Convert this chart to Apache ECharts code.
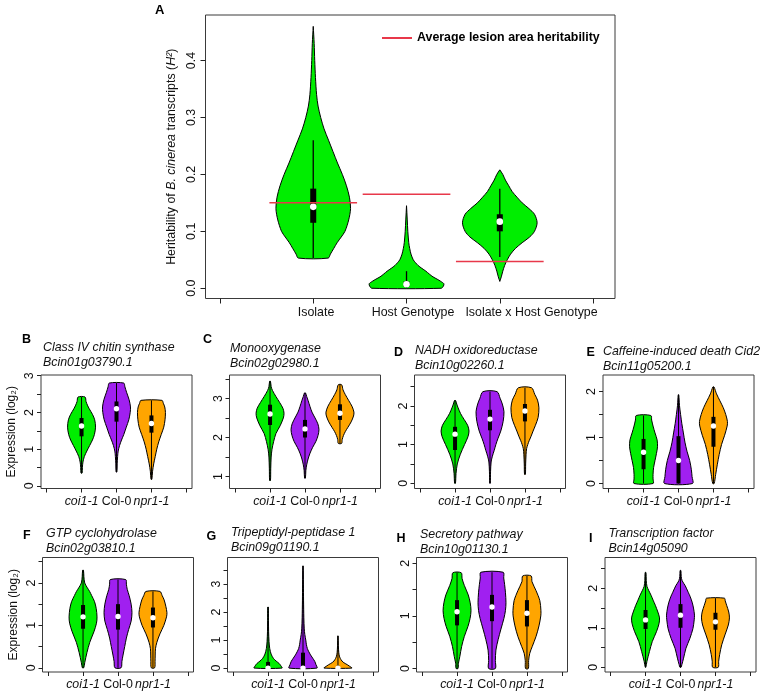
<!DOCTYPE html>
<html><head><meta charset="utf-8">
<script src="https://cdn.jsdelivr.net/npm/echarts@6/dist/echarts.min.js"></script>
<style>html,body{margin:0;padding:0;background:#fff}#c{width:764px;height:698px}</style>
</head><body><div id="c"></div>
<script>
// ---------------- DATA ----------------
const effectCategories = ['Isolate', 'Host Genotype', 'Isolate x Host Genotype'];
const genotypes = ['coi1-1', 'Col-0', 'npr1-1'];
const genotypeItalic = [true, false, true];

// Panel A: violin profiles [value, relative density width]
const profA_isolate = [[0.053,0.40],[0.06,0.46],[0.07,0.55],[0.08,0.64],[0.09,0.75],[0.10,0.85],[0.12,0.95],[0.14,1.0],[0.16,0.97],[0.18,0.89],[0.20,0.78],[0.22,0.65],[0.24,0.53],[0.26,0.41],[0.28,0.29],[0.30,0.2],[0.32,0.13],[0.34,0.09],[0.37,0.06],[0.40,0.04],[0.43,0.025],[0.46,0.0]];
const profA_host = [[0,0.93],[0.004,0.99],[0.008,1.0],[0.012,0.92],[0.016,0.82],[0.02,0.71],[0.025,0.61],[0.03,0.52],[0.035,0.41],[0.04,0.31],[0.045,0.24],[0.05,0.18],[0.06,0.12],[0.07,0.085],[0.08,0.06],[0.10,0.035],[0.12,0.02],[0.145,0]];
const profA_ixh = [[0.012,0],[0.02,0.04],[0.03,0.08],[0.04,0.13],[0.05,0.2],[0.06,0.29],[0.07,0.42],[0.08,0.6],[0.09,0.8],[0.10,0.93],[0.115,1.0],[0.13,0.93],[0.14,0.78],[0.15,0.6],[0.16,0.46],[0.17,0.33],[0.18,0.24],[0.19,0.15],[0.20,0.08],[0.208,0]];
const medianA = [0.143, 0.007, 0.117];
const boxA = [[0.115,0.175],[0.003,0.012],[0.10,0.13]];
const whiskerA = [[0.053,0.26],[0.0,0.03],[0.055,0.175]];
const lesionHeritability = [0.15, 0.165, 0.047];
const yTicksA = [0, 0.1, 0.2, 0.3, 0.4];
const xLabelPosA = [1.03, 2.07, 3.34];

// Panel B
const profB_coi = [[0.35,0.04],[0.5,0.06],[0.65,0.1],[0.8,0.2],[0.95,0.38],[1.1,0.58],[1.25,0.78],[1.4,0.92],[1.6,1.0],[1.8,0.94],[1.95,0.78],[2.1,0.55],[2.2,0.42],[2.3,0.32],[2.42,0.25]];
const profB_col = [[0.38,0.03],[0.6,0.05],[0.8,0.08],[0.95,0.12],[1.1,0.22],[1.25,0.36],[1.4,0.52],[1.6,0.7],[1.8,0.88],[2.0,0.98],[2.15,1.0],[2.35,0.9],[2.55,0.72],[2.7,0.6],[2.8,0.52]];
const profB_npr = [[0.18,0.03],[0.4,0.08],[0.6,0.16],[0.8,0.27],[1.0,0.38],[1.2,0.52],[1.4,0.7],[1.6,0.88],[1.8,0.97],[2.0,1.0],[2.15,0.95],[2.25,0.85],[2.33,0.75]];
const medianB = [1.63, 2.1, 1.7];
const boxB = [[1.35,1.85],[1.75,2.3],[1.45,1.92]];
const whiskerB = [[0.35,2.42],[0.38,2.8],[0.18,2.33]];
const yTicksB = [0,0.5,1,1.5,2,2.5,3], yLabelsB = [0,1,2,3];

// Panel C
const profC_coi = [[0.9,0.03],[1.2,0.05],[1.5,0.08],[1.7,0.14],[1.9,0.26],[2.1,0.42],[2.3,0.72],[2.5,0.95],[2.62,1.0],[2.75,0.92],[2.9,0.68],[3.05,0.42],[3.2,0.18],[3.3,0.08],[3.44,0.03]];
const profC_col = [[0.96,0.03],[1.15,0.06],[1.3,0.12],[1.45,0.22],[1.6,0.36],[1.75,0.55],[1.9,0.78],[2.05,0.93],[2.2,1.0],[2.35,0.92],[2.5,0.72],[2.65,0.5],[2.8,0.35],[2.95,0.22],[3.05,0.12],[3.14,0.04]];
const profC_npr = [[1.85,0.12],[1.95,0.16],[2.05,0.25],[2.15,0.38],[2.25,0.55],[2.4,0.8],[2.55,0.97],[2.65,1.0],[2.8,0.86],[2.95,0.62],[3.1,0.38],[3.22,0.22],[3.35,0.12]];
const medianC = [2.6, 2.22, 2.62];
const boxC = [[2.32,2.84],[2.0,2.45],[2.45,2.85]];
const whiskerC = [[0.9,3.44],[0.96,3.14],[1.85,3.35]];
const yTicksC = [1,1.5,2,2.5,3,3.5], yLabelsC = [1,2,3];

// Panel D
const profD_coi = [[0,0.03],[0.25,0.07],[0.5,0.16],[0.75,0.38],[1.0,0.68],[1.2,0.92],[1.35,1.0],[1.5,0.9],[1.65,0.65],[1.8,0.4],[1.95,0.22],[2.05,0.12],[2.14,0.04]];
const profD_col = [[0,0.02],[0.3,0.04],[0.55,0.08],[0.7,0.17],[0.85,0.3],[1.0,0.42],[1.15,0.56],[1.35,0.77],[1.6,0.94],[1.85,1.0],[2.05,0.88],[2.2,0.72],[2.37,0.5]];
const profD_npr = [[0.23,0.03],[0.5,0.05],[0.75,0.08],[0.9,0.12],[1.0,0.2],[1.1,0.3],[1.2,0.42],[1.35,0.58],[1.5,0.75],[1.7,0.94],[1.95,1.0],[2.15,0.9],[2.3,0.7],[2.47,0.47]];
const medianD = [1.27, 1.66, 1.87];
const boxD = [[0.86,1.46],[1.37,1.9],[1.6,2.05]];
const whiskerD = [[0,2.14],[0,2.37],[0.23,2.47]];
const yTicksD = [0,0.5,1,1.5,2,2.5], yLabelsD = [0,1,2];

// Panel E
const profE_coi = [[0,0.68],[0.1,0.68],[0.2,0.68],[0.35,0.72],[0.5,0.82],[0.65,0.92],[0.8,1.0],[0.95,0.97],[1.1,0.82],[1.25,0.68],[1.38,0.58],[1.48,0.52]];
const profE_col = [[0,1.0],[0.15,0.97],[0.3,0.92],[0.5,0.8],[0.7,0.61],[0.9,0.46],[1.1,0.35],[1.3,0.24],[1.5,0.15],[1.7,0.07],[1.93,0.02]];
const profE_npr = [[0,0.05],[0.2,0.16],[0.42,0.28],[0.63,0.41],[0.85,0.58],[1.05,0.8],[1.25,0.98],[1.35,1.0],[1.5,0.88],[1.65,0.7],[1.8,0.46],[1.95,0.22],[2.1,0.04]];
const medianE = [0.68, 0.5, 1.25];
const boxE = [[0.31,0.97],[0,1.03],[0.8,1.45]];
const whiskerE = [[0,1.48],[0,1.93],[0,2.1]];
const yTicksE = [0,0.5,1,1.5,2], yLabelsE = [0,1,2];

// Panel F
const profF_coi = [[0,0.05],[0.12,0.12],[0.36,0.28],[0.6,0.48],[0.85,0.78],[1.05,0.96],[1.2,1.0],[1.4,0.94],[1.56,0.82],[1.7,0.62],[1.8,0.47],[1.9,0.28],[2.0,0.12],[2.15,0.06],[2.3,0.03]];
const profF_col = [[0,0.22],[0.15,0.28],[0.3,0.36],[0.5,0.48],[0.7,0.6],[0.9,0.76],[1.1,0.94],[1.3,1.0],[1.5,0.94],[1.7,0.8],[1.85,0.66],[1.97,0.6],[2.08,0.55]];
const profF_npr = [[0,0.12],[0.15,0.15],[0.3,0.16],[0.45,0.18],[0.6,0.28],[0.8,0.5],[1.0,0.78],[1.2,0.97],[1.3,1.0],[1.45,0.92],[1.6,0.8],[1.7,0.66],[1.8,0.5]];
const medianF = [1.2, 1.21, 1.18];
const boxF = [[0.92,1.48],[0.9,1.5],[0.95,1.42]];
const whiskerF = [[0,2.3],[0,2.08],[0,1.8]];
const yTicksF = [0,0.5,1,1.5,2,2.5], yLabelsF = [0,1,2];

// Panel G
const profG_coi = [[0,1.0],[0.08,0.92],[0.16,0.8],[0.25,0.58],[0.35,0.38],[0.5,0.22],[0.7,0.12],[0.95,0.07],[1.3,0.04],[1.7,0.03],[2.18,0.02]];
const profG_col = [[0,1.0],[0.12,0.93],[0.24,0.84],[0.35,0.7],[0.47,0.54],[0.6,0.4],[0.7,0.31],[0.85,0.24],[1.0,0.2],[1.2,0.13],[1.4,0.09],[1.8,0.06],[2.4,0.04],[3.0,0.03],[3.65,0.01]];
const profG_npr = [[0,1.0],[0.06,0.85],[0.12,0.67],[0.21,0.37],[0.3,0.22],[0.4,0.12],[0.55,0.06],[0.8,0.03],[1.15,0.01]];
const medianG = [0, 0, 0];
const boxG = [[0,0.22],[0,0.55],[0,0.08]];
const whiskerG = [[0,2.18],[0,3.65],[0,1.15]];
const yTicksG = [0,0.5,1,1.5,2,2.5,3,3.5], yLabelsG = [0,1,2,3];

// Panel H
const profH_coi = [[0,0.07],[0.1,0.1],[0.23,0.2],[0.42,0.33],[0.61,0.52],[0.8,0.78],[0.95,0.93],[1.1,1.0],[1.25,0.94],[1.4,0.8],[1.58,0.52],[1.71,0.36],[1.82,0.3]];
const profH_col = [[0,0.24],[0.15,0.24],[0.35,0.28],[0.55,0.44],[0.75,0.64],[0.95,0.85],[1.1,0.96],[1.25,1.0],[1.45,0.96],[1.6,0.9],[1.72,0.84],[1.83,0.8]];
const profH_npr = [[0,0.1],[0.15,0.12],[0.29,0.2],[0.42,0.38],[0.61,0.65],[0.81,0.86],[1.0,0.99],[1.1,1.0],[1.29,0.92],[1.48,0.65],[1.65,0.36],[1.76,0.3]];
const medianH = [1.08, 1.17, 1.05];
const boxH = [[0.82,1.3],[0.9,1.4],[0.8,1.3]];
const whiskerH = [[0,1.82],[0,1.83],[0,1.76]];
const yTicksH = [0,0.5,1,1.5,2], yLabelsH = [0,1,2];

// Panel I
const profI_coi = [[0,0.02],[0.15,0.1],[0.4,0.28],[0.65,0.48],[0.9,0.78],[1.1,0.96],[1.25,1.0],[1.4,0.88],[1.57,0.7],[1.7,0.54],[1.82,0.4],[1.95,0.22],[2.05,0.1],[2.2,0.05],[2.4,0.03]];
const profI_col = [[0,0.04],[0.07,0.1],[0.23,0.22],[0.48,0.39],[0.73,0.67],[0.98,0.89],[1.2,0.98],[1.32,1.0],[1.5,0.93],[1.65,0.83],[1.8,0.68],[1.9,0.55],[2.07,0.33],[2.19,0.12],[2.3,0.05],[2.45,0.03]];
const profI_npr = [[0,0.2],[0.15,0.23],[0.32,0.3],[0.57,0.45],[0.82,0.68],[1.07,0.92],[1.25,1.0],[1.4,0.95],[1.57,0.8],[1.68,0.7],[1.75,0.64]];
const medianI = [1.2, 1.32, 1.15];
const boxI = [[0.97,1.45],[1.0,1.6],[0.95,1.38]];
const whiskerI = [[0,2.4],[0,2.45],[0,1.75]];
const yTicksI = [0,0.5,1,1.5,2,2.5], yLabelsI = [0,1,2];

// ---------------- STYLE / LAYOUT ----------------
const FONT = '"Liberation Sans", Arial, Helvetica, sans-serif';
const FS = 12.4;
const GREEN = '#00ee00', PURPLE = '#a020f0', ORANGE = '#ffa500', RED = '#e8384a';
const BOX_BORDER = '#3a3a3a';
const violinColors = [GREEN, PURPLE, ORANGE];

const panels = [
  {letter:'B', title:'Class IV chitin synthase\nBcin01g03790.1', prof:[profB_coi,profB_col,profB_npr], med:medianB, box:boxB, wh:whiskerB, yt:yTicksB, yl:yLabelsB,
   left:41, top:375, h:113.5, ymin:-0.07, ymax:3.02, tx:43, ty:348, lx:22, ly:340, yname:true},
  {letter:'C', title:'Monooxygenase\nBcin02g02980.1', prof:[profC_coi,profC_col,profC_npr], med:medianC, box:boxC, wh:whiskerC, yt:yTicksC, yl:yLabelsC,
   left:229.5, top:375, h:113.5, ymin:0.695, ymax:3.6, tx:230, ty:349, lx:203, ly:340},
  {letter:'D', title:'NADH oxidoreductase\nBcin10g02260.1', prof:[profD_coi,profD_col,profD_npr], med:medianD, box:boxD, wh:whiskerD, yt:yTicksD, yl:yLabelsD,
   left:414.5, top:375, h:113.5, ymin:-0.135, ymax:2.8, tx:415, ty:351, lx:394, ly:352.5},
  {letter:'E', title:'Caffeine-induced death Cid2\nBcin11g05200.1', prof:[profE_coi,profE_col,profE_npr], med:medianE, box:boxE, wh:whiskerE, yt:yTicksE, yl:yLabelsE,
   left:603, top:375, h:113.5, ymin:-0.108, ymax:2.36, tx:603, ty:352, lx:586.5, ly:353},
  {letter:'F', title:'GTP cyclohydrolase\nBcin02g03810.1', prof:[profF_coi,profF_col,profF_npr], med:medianF, box:boxF, wh:whiskerF, yt:yTicksF, yl:yLabelsF,
   left:42.5, top:557.5, h:114.5, ymin:-0.1, ymax:2.6, tx:46, ty:533.5, lx:23, ly:536, yname:true},
  {letter:'G', title:'Tripeptidyl-peptidase 1\nBcin09g01190.1', prof:[profG_coi,profG_col,profG_npr], med:medianG, box:boxG, wh:whiskerG, yt:yTicksG, yl:yLabelsG,
   left:227.5, top:557.5, h:114.5, ymin:-0.14, ymax:3.95, tx:231, ty:533, lx:206.5, ly:537},
  {letter:'H', title:'Secretory pathway\nBcin10g01130.1', prof:[profH_coi,profH_col,profH_npr], med:medianH, box:boxH, wh:whiskerH, yt:yTicksH, yl:yLabelsH,
   left:416.5, top:557.5, h:114.5, ymin:-0.066, ymax:2.11, tx:420, ty:535, lx:396.5, ly:538.5},
  {letter:'I', title:'Transcription factor\nBcin14g05090', prof:[profI_coi,profI_col,profI_npr], med:medianI, box:boxI, wh:whiskerI, yt:yTicksI, yl:yLabelsI,
   left:605, top:557.5, h:114.5, ymin:-0.12, ymax:2.78, tx:608.5, ty:533.5, lx:589, ly:539}
];

// ---------------- BUILD ----------------
function violinSeries(gi, prof, med, box, wh, colors, halfMax, boxW, dotR, whW) {
  return {
    type: 'custom', xAxisIndex: gi, yAxisIndex: gi, silent: true, z: 3,
    data: prof.map((p, i) => [i + 1]),
    renderItem: (params, api) => {
      const i = params.dataIndex, x = i + 1, p = prof[i];
      const leftSide = p.map(([y, w]) => api.coord([x - w * halfMax, y]));
      const rightSide = p.slice().reverse().map(([y, w]) => api.coord([x + w * halfMax, y]));
      const lo = api.coord([x, wh[i][0]]), hi = api.coord([x, wh[i][1]]);
      const q1 = api.coord([x, box[i][0]]), q3 = api.coord([x, box[i][1]]);
      const m = api.coord([x, med[i]]);
      return { type: 'group', children: [
        { type: 'polygon', shape: { points: leftSide.concat(rightSide), smooth: 0.3 },
          style: { fill: colors[i], stroke: '#000', lineWidth: 1 } },
        { type: 'line', shape: { x1: lo[0], y1: lo[1], x2: hi[0], y2: hi[1] },
          style: { stroke: '#000', lineWidth: whW } },
        { type: 'rect', shape: { x: q3[0] - boxW / 2, y: q3[1], width: boxW, height: Math.max(q1[1] - q3[1], 1) },
          style: { fill: '#000' } },
        { type: 'circle', shape: { cx: m[0], cy: m[1], r: dotR }, style: { fill: '#fff' } }
      ]};
    }
  };
}

const grids = [], xAxes = [], yAxes = [], series = [], titles = [];
const axisCommon = { axisLine: { show: false, onZero: false }, splitLine: { show: false } };
const tickStyle = { color: '#222', width: 1 };

// Panel A
grids.push({ left: 205.5, top: 15, width: 409.5, height: 283.5, show: true, borderColor: BOX_BORDER, borderWidth: 1,
  containLabel: false, outerBoundsMode: 'none' });
const catPos = effectCategories.map((c, i) => i + 1);
xAxes.push(Object.assign({ gridIndex: 0, type: 'value', min: -0.155, max: 4.235,
  axisTick: { show: true, length: 5, customValues: [0].concat(catPos, [catPos.length + 1]), lineStyle: tickStyle },
  axisLabel: { customValues: xLabelPosA, showMinLabel: true, showMaxLabel: true, hideOverlap: false,
    formatter: v => { const i = xLabelPosA.findIndex(p => Math.abs(p - v) < 1e-6); return i >= 0 ? effectCategories[i] : ''; },
    margin: 8, fontSize: FS, fontFamily: FONT, color: '#111' } }, axisCommon));
yAxes.push(Object.assign({ gridIndex: 0, type: 'value', min: -0.018, max: 0.48,
  axisTick: { show: true, length: 5, customValues: yTicksA, lineStyle: tickStyle },
  axisLabel: { customValues: yTicksA, formatter: v => v.toFixed(1), rotate: 90, margin: 8,
    fontSize: FS, fontFamily: FONT, color: '#111' },
  name: 'Heritability of {i|B. cinerea} transcripts ({i|H²})', nameLocation: 'middle', nameRotate: 90, nameGap: 27,
  nameTextStyle: { fontSize: FS, fontFamily: FONT, color: '#111',
    rich: { i: { fontStyle: 'italic', fontSize: FS, fontFamily: FONT, color: '#111' } } } }, axisCommon));
series.push(violinSeries(0, [profA_isolate, profA_host, profA_ixh], medianA, boxA, whiskerA,
  [GREEN, GREEN, GREEN], 0.4, 6, 3.3, 1.3));
series.push({ type: 'custom', name: 'Average lesion area heritability', xAxisIndex: 0, yAxisIndex: 0, z: 5,
  itemStyle: { color: RED },
  data: lesionHeritability.map((v, i) => [i + 1, v]),
  renderItem: (params, api) => {
    const x = api.value(0), v = api.value(1);
    const a = api.coord([x - 0.47, v]), b = api.coord([x + 0.47, v]);
    return { type: 'line', shape: { x1: a[0], y1: a[1], x2: b[0], y2: b[1] }, style: { stroke: RED, lineWidth: 1.5 } };
  } });
titles.push({ text: 'A', left: 155, top: 3, padding: 0,
  textStyle: { fontWeight: 'bold', fontSize: 13, fontFamily: FONT, color: '#000', lineHeight: 14 } });

// Small panels
const PW = 151;
panels.forEach((p, k) => {
  const gi = k + 1;
  grids.push({ left: p.left, top: p.top, width: PW, height: p.h, show: true, borderColor: BOX_BORDER, borderWidth: 1,
    containLabel: false, outerBoundsMode: 'none' });
  const gPos = genotypes.map((g, i) => i + 1);
  xAxes.push(Object.assign({ gridIndex: gi, type: 'value', min: -0.16, max: 4.16,
    axisTick: { show: true, length: 4, customValues: [0].concat(gPos, [gPos.length + 1]), lineStyle: tickStyle },
    axisLabel: { customValues: gPos, margin: 7, showMinLabel: true, showMaxLabel: true, hideOverlap: false,
      formatter: v => { const i = Math.round(v) - 1; return genotypeItalic[i] ? '{i|' + genotypes[i] + '}' : '{n|' + genotypes[i] + '}'; },
      rich: { i: { fontStyle: 'italic', fontSize: FS, fontFamily: FONT, color: '#111' },
              n: { fontSize: FS, fontFamily: FONT, color: '#111' } } } }, axisCommon));
  const yAx = Object.assign({ gridIndex: gi, type: 'value', min: p.ymin, max: p.ymax,
    axisTick: { show: true, length: 4, customValues: p.yt, lineStyle: tickStyle },
    axisLabel: { customValues: p.yl, formatter: v => String(v), rotate: 90, margin: 5,
      fontSize: FS, fontFamily: FONT, color: '#111' } }, axisCommon);
  if (p.yname) {
    Object.assign(yAx, { name: 'Expression (log₂)', nameLocation: 'middle', nameRotate: 90, nameGap: 23,
      nameTextStyle: { fontSize: 12, fontFamily: FONT, color: '#111' } });
  }
  yAxes.push(yAx);
  series.push(violinSeries(gi, p.prof, p.med, p.box, p.wh, violinColors, 0.4, 4, 2.7, 1));
  titles.push({ text: p.title, left: p.tx, top: p.ty - 7.5, padding: 0,
    textStyle: { fontStyle: 'italic', fontWeight: 'normal', fontSize: FS, fontFamily: FONT, color: '#111', lineHeight: 15 } });
  titles.push({ text: p.letter, left: p.lx, top: p.ly - 7, padding: 0,
    textStyle: { fontWeight: 'bold', fontSize: 12.5, fontFamily: FONT, color: '#000', lineHeight: 14 } });
});

const chart = echarts.init(document.getElementById('c'), null, { renderer: 'canvas' });
chart.setOption({
  backgroundColor: '#fff',
  animation: false,
  title: titles,
  legend: { data: [{ name: 'Average lesion area heritability', icon: 'rect' }], left: 382, top: 32,
    itemWidth: 30, itemHeight: 2, selectedMode: false, padding: 0,
    textStyle: { fontWeight: 'bold', fontSize: FS, fontFamily: FONT, color: '#000' } },
  grid: grids, xAxis: xAxes, yAxis: yAxes, series: series
});
</script></body></html>
